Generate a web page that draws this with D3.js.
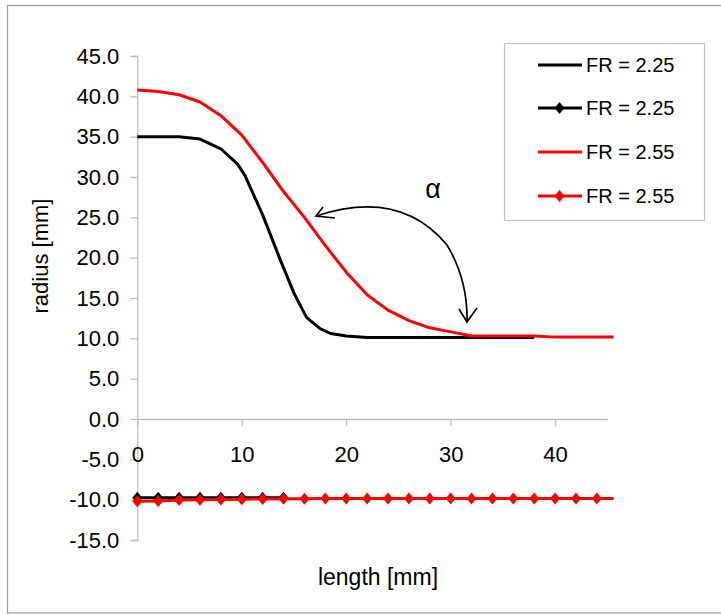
<!DOCTYPE html>
<html><head><meta charset="utf-8">
<script src="https://cdn.jsdelivr.net/npm/d3@7"></script>
<style>body{margin:0;background:#fff} svg{display:block} text{font-family:"Liberation Sans",Arial,sans-serif;fill:#000}</style>
</head><body><svg id="c" width="721" height="614"></svg>
<script>
// ---- data ----
const xTicks = [0, 10, 20, 30, 40];
const yTicks = [-15, -10, -5, 0, 5, 10, 15, 20, 25, 30, 35, 40, 45];
const legendLabels = ["FR = 2.25", "FR = 2.25", "FR = 2.55", "FR = 2.55"];

// FR = 2.25 profile (line only)
const fr225Length = [0, 4, 6, 8, 9.6, 10.3, 12, 13.7, 15, 16.2, 17.5, 18.5, 20, 22, 38];
const fr225Radius = [35.0, 35.0, 34.7, 33.5, 31.6, 30.2, 25.3, 19.7, 15.6, 12.6, 11.2, 10.6, 10.3, 10.1, 10.1];

// FR = 2.55 profile (line only)
const fr255Length = [0, 2, 4, 6, 8, 10, 12, 14, 16, 18, 20, 22, 24, 26, 28, 30, 32, 38, 40, 45.6];
const fr255Radius = [40.8, 40.6, 40.2, 39.3, 37.6, 35.2, 31.8, 28.2, 25.0, 21.5, 18.2, 15.4, 13.5, 12.2, 11.3, 10.8, 10.3, 10.3, 10.15, 10.15];

// FR = 2.25 with markers
const fr225mLength = [0, 2, 4, 6, 8, 10, 12, 14];
const fr225mRadius = [-9.75, -9.75, -9.75, -9.75, -9.75, -9.75, -9.75, -9.75];

// FR = 2.55 with markers
const fr255mLength = [0, 2, 4, 6, 8, 10, 12, 14, 16, 18, 20, 22, 24, 26, 28, 30, 32, 34, 36, 38, 40, 42, 44];
const fr255mRadius = [-10.2, -10.15, -10.05, -10.0, -9.98, -9.95, -9.92, -9.9, -9.88, -9.85, -9.85, -9.85, -9.85, -9.85, -9.85, -9.85, -9.85, -9.85, -9.85, -9.85, -9.85, -9.85, -9.85];
const fr255mLineEnd = [45.6, -9.85];

// ---- chart ----
const svg = d3.select("#c");
const x = d3.scaleLinear().domain([0, 45]).range([137.3, 607.3]);
const y = d3.scaleLinear().domain([-15, 45]).range([540, 56]);
const FONT = '"Liberation Sans",Arial,sans-serif';

// outer border
svg.append("rect").attr("x", 7.5).attr("y", 5.5).attr("width", 730).attr("height", 607.5)
  .attr("fill", "none").attr("stroke", "#9a9a9a").attr("stroke-width", 1.2);

// y axis
const yAxis = d3.axisLeft(y).tickValues(yTicks).tickFormat(d => d.toFixed(1)).tickSize(7).tickPadding(11);
const gy = svg.append("g").attr("transform", `translate(${x(0)},0)`).call(yAxis);
gy.select(".domain").attr("stroke", "#bdbdbd").attr("stroke-width", 1.3);
gy.selectAll(".tick line").attr("stroke", "#bdbdbd").attr("stroke-width", 1.3);
gy.selectAll(".tick text").style("font-size", "22px").style("font-family", FONT).attr("fill", "#000");

// x axis at y = 0
const xAxis = d3.axisBottom(x).tickValues(xTicks).tickFormat(d3.format("d")).tickSize(7).tickSizeOuter(0).tickPadding(20);
const gx = svg.append("g").attr("transform", `translate(0,${y(0)})`).call(xAxis);
gx.select(".domain").attr("stroke", "#bdbdbd").attr("stroke-width", 1.3);
gx.selectAll(".tick line").attr("stroke", "#bdbdbd").attr("stroke-width", 1.3);
gx.selectAll(".tick text").style("font-size", "22px").style("font-family", FONT).attr("fill", "#000");

// axis titles
svg.append("text").attr("transform", "translate(48,256) rotate(-90)").attr("text-anchor", "middle")
  .style("font-size", "22px").text("radius [mm]");
svg.append("text").attr("x", 378).attr("y", 585).attr("text-anchor", "middle")
  .style("font-size", "23px").text("length [mm]");

const line = d3.line().x(d => x(d[0])).y(d => y(d[1]));
const zip = (a, b) => a.map((v, i) => [v, b[i]]);
const diamond = "M0,-6L5,0L0,6L-5,0Z";

// lines
svg.append("path").attr("d", line(zip(fr225Length, fr225Radius))).attr("fill", "none").attr("stroke", "#000").attr("stroke-width", 3).attr("stroke-linejoin", "round");
const m225 = zip(fr225mLength, fr225mRadius);
svg.append("path").attr("d", line(m225)).attr("fill", "none").attr("stroke", "#000").attr("stroke-width", 3);
svg.selectAll(".mk225").data(m225).enter().append("path").attr("d", diamond)
  .attr("transform", d => `translate(${x(d[0])},${y(d[1])})`).attr("fill", "#000");

svg.append("path").attr("d", line(zip(fr255Length, fr255Radius))).attr("fill", "none").attr("stroke", "#ff0000").attr("stroke-width", 3).attr("stroke-linejoin", "round");
const m255 = zip(fr255mLength, fr255mRadius);
svg.append("path").attr("d", line(m255.concat([fr255mLineEnd]))).attr("fill", "none").attr("stroke", "#ff0000").attr("stroke-width", 3);
svg.selectAll(".mk255").data(m255).enter().append("path").attr("d", diamond)
  .attr("transform", d => `translate(${x(d[0])},${y(d[1])})`).attr("fill", "#ff0000");

// annotation arrow
const ann = svg.append("g").attr("fill", "none").attr("stroke", "#000").attr("stroke-width", 1.7);
ann.append("path").attr("d", "M316,216 Q400,188 447,245 Q468,280 467,322");
ann.append("path").attr("d", "M323,207 L316,216 L335,218");
ann.append("path").attr("d", "M459,309 L467,322 L477,308");
svg.append("text").attr("x", 433).attr("y", 198).attr("text-anchor", "middle").style("font-size", "27px").text("α");

// legend
svg.append("rect").attr("x", 504.5).attr("y", 43.5).attr("width", 200).attr("height", 177)
  .attr("fill", "#fff").attr("stroke", "#c4c4c4").attr("stroke-width", 1.2);
const legColors = ["#000", "#000", "#ff0000", "#ff0000"];
const legMarker = [false, true, false, true];
const legY = [65, 108, 152, 196];
legendLabels.forEach((lab, i) => {
  const g = svg.append("g").attr("transform", `translate(0,${legY[i]})`);
  g.append("line").attr("x1", 538).attr("x2", 582).attr("y1", 0).attr("y2", 0).attr("stroke", legColors[i]).attr("stroke-width", 3);
  if (legMarker[i]) g.append("path").attr("d", diamond).attr("transform", "translate(559.5,0)").attr("fill", legColors[i]);
  g.append("text").attr("x", 586).attr("y", 0).attr("dy", "0.35em").style("font-size", "20px").text(lab);
});
</script></body></html>
